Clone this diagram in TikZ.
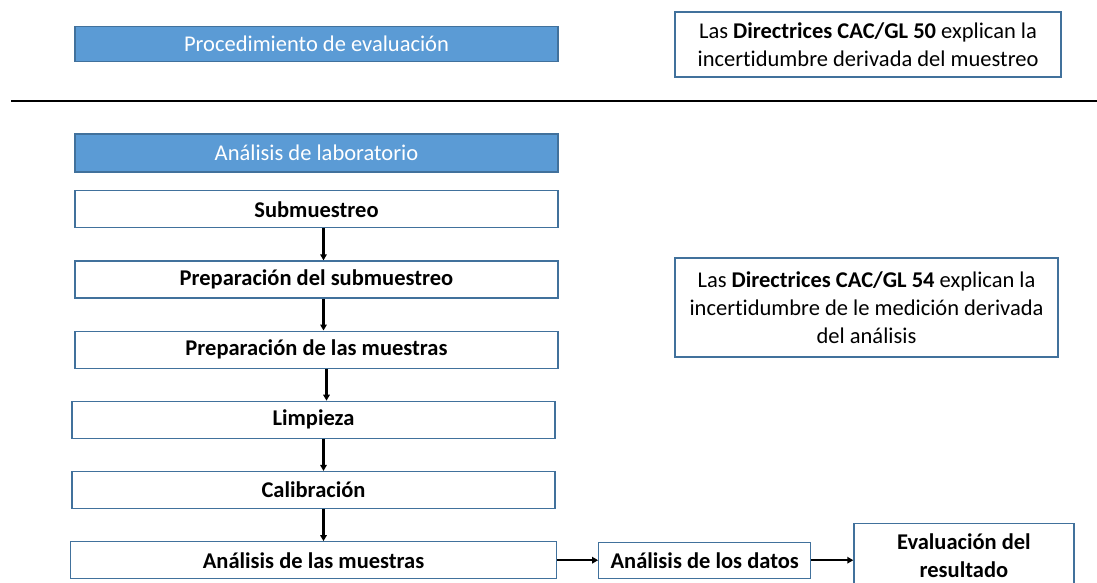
\documentclass[tikz,border=0pt]{standalone}
\usepackage{fontspec}
\setmainfont{Carlito}[Ligatures=NoCommon]
\usepackage{tikz}
\usetikzlibrary{positioning,arrows.meta}
\definecolor{barblue}{HTML}{5B9BD5}
\definecolor{edgeblue}{HTML}{41719C}
\tikzset{
  bluebar/.style={rectangle, draw=edgeblue, fill=barblue, text=white, line width=1.2pt, minimum width=483pt, minimum height=35pt, inner sep=2pt, font=\fontsize{22.5}{28}\selectfont},
  stepbox/.style={rectangle, draw=edgeblue, line width=1.2pt, minimum width=483pt, minimum height=37pt, inner sep=2pt, font=\fontsize{22.5}{28}\selectfont\bfseries, align=center},
  notebox/.style={rectangle, draw=edgeblue, line width=1.2pt, inner sep=4pt, font=\fontsize{22.5}{28}\selectfont, align=center},
  fwd/.style={-{Triangle[length=6pt,width=6.5pt]}, line width=2.2pt},
}

\begin{document}
\begin{tikzpicture}[x=1pt,y=1pt, node distance=32pt]
  \useasboundingbox (0,0) rectangle (1097,-583);

  % upper part
  \node[bluebar] (proc) at (316.5,-44) {Procedimiento de evaluación};
  \node[notebox, minimum width=386pt, minimum height=65pt] (gl50) at (868,-44.5) {Las \textbf{Directrices CAC/GL 50} explican la\\incertidumbre derivada del muestreo};
  \draw[line width=2.5pt] (11,-101) -- (1097,-101);

  % laboratory chain
  \node[bluebar, minimum height=38pt] (lab) at (316.5,-153) {Análisis de laboratorio};
  \node[stepbox] (sub) [below=17.5pt of lab] {Submuestreo};
  \node[stepbox] (prep) [below=of sub] {Preparación del submuestreo};
  \node[stepbox] (mues) [below=of prep] {Preparación de las muestras};
  \node[stepbox, xshift=-3pt] (limp) [below=of mues] {Limpieza};
  \node[stepbox] (cal) [below=of limp] {Calibración};
  \node[stepbox, minimum width=486pt] (ana) [below=of cal] {Análisis de las muestras};
  \node[stepbox, minimum width=212pt, minimum height=36pt] (datos) [right=41pt of ana] {Análisis de los datos};
  \node[stepbox, minimum width=220pt, minimum height=64pt] (eval) [right=42pt of datos, yshift=5pt] {Evaluación del\\resultado};
  \node[notebox, minimum width=383pt, minimum height=99pt] (gl54) at (866.5,-307.5) {Las \textbf{Directrices CAC/GL 54} explican la\\incertidumbre de le medición derivada\\del análisis};

  \draw[fwd] ([xshift=7pt]sub.south) -- ([xshift=7pt]prep.north);
  \draw[fwd] ([xshift=7pt]prep.south) -- ([xshift=7pt]mues.north);
  \draw[fwd] ([xshift=10pt]mues.south) -- ([xshift=10pt]mues.south |- limp.north);
  \draw[fwd] ([xshift=10pt]limp.south) -- ([xshift=10pt]cal.north);
  \draw[fwd] ([xshift=10pt]cal.south) -- ([xshift=10pt]ana.north);
  \draw[fwd] (ana.east) -- (datos.west);
  \draw[fwd] (datos.east) -- (datos.east -| eval.west);
\end{tikzpicture}
\end{document}
